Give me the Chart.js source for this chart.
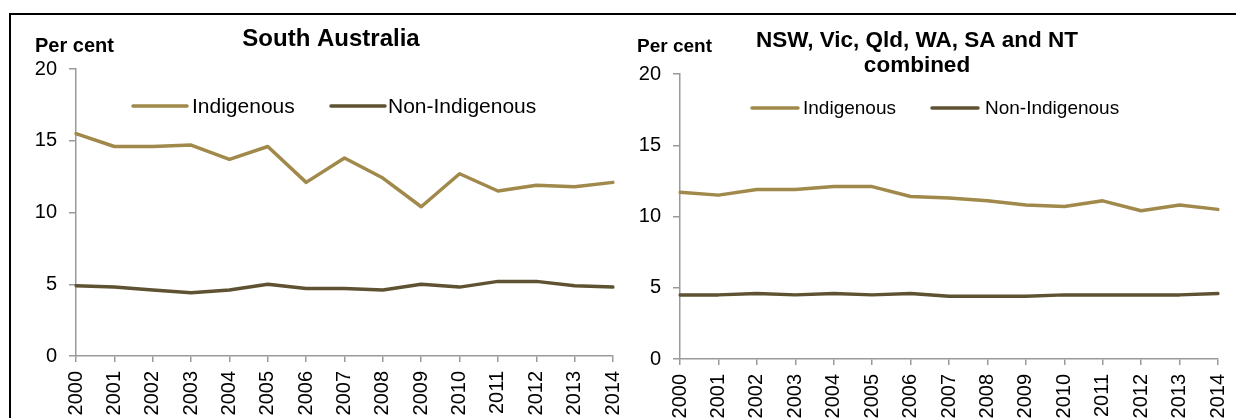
<!DOCTYPE html>
<html>
<head>
<meta charset="utf-8">
<script src="https://cdn.jsdelivr.net/npm/chart.js@4/dist/chart.umd.min.js"></script>
<style>
  html, body { margin: 0; padding: 0; background: #ffffff; }
  body { width: 1236px; height: 418px; position: relative; overflow: hidden; }
  #frame { position: absolute; left: 9px; top: 13px; width: 1300px; height: 500px; border: 2px solid #000; box-sizing: border-box; }
  .wrap { position: absolute; top: 0; height: 418px; }
  #w1 { left: 0; width: 630px; z-index: 2; }
  #w2 { left: 616px; width: 620px; z-index: 1; }
</style>
</head>
<body>
<div id="frame"></div>
<div class="wrap" id="w1"><canvas id="c1"></canvas></div>
<div class="wrap" id="w2"><canvas id="c2"></canvas></div>
<script>
const years = ['2000','2001','2002','2003','2004','2005','2006','2007','2008','2009','2010','2011','2012','2013','2014'];
const seriesNames = ['Indigenous', 'Non-Indigenous'];
const yTicks = [0, 5, 10, 15, 20];

const saIndigenous    = [15.5, 14.6, 14.6, 14.7, 13.7, 14.6, 12.1, 13.8, 12.4, 10.4, 12.7, 11.5, 11.9, 11.8, 12.1];
const saNonIndigenous = [4.9, 4.8, 4.6, 4.4, 4.6, 5.0, 4.7, 4.7, 4.6, 5.0, 4.8, 5.2, 5.2, 4.9, 4.8];

const allIndigenous    = [11.7, 11.5, 11.9, 11.9, 12.1, 12.1, 11.4, 11.3, 11.1, 10.8, 10.7, 11.1, 10.4, 10.8, 10.5];
const allNonIndigenous = [4.5, 4.5, 4.6, 4.5, 4.6, 4.5, 4.6, 4.4, 4.4, 4.4, 4.5, 4.5, 4.5, 4.5, 4.6];

const titleLeft = ['South Australia'];
const titleRight = ['NSW, Vic, Qld, WA, SA and NT', 'combined'];
const yUnit = 'Per cent';

const colIndig = '#A0894A';
const colNon = '#5E5232';
const axisGrey = '#9a9a9a';
const FONT = '"Liberation Sans", Arial, Helvetica, sans-serif';

Chart.defaults.font.family = FONT;
Chart.defaults.color = '#000';

const textPlugin = {
  id: 'textPlugin',
  afterDraw(chart, args, o) {
    const ctx = chart.ctx;
    ctx.save();
    ctx.fillStyle = '#000';
    ctx.textBaseline = 'alphabetic';
    ctx.font = 'bold ' + o.unitSize + 'px ' + FONT;
    ctx.textAlign = 'left';
    ctx.fillText(o.unit, o.unitX, o.unitY);
    ctx.font = 'bold ' + o.titleSize + 'px ' + FONT;
    ctx.textAlign = 'center';
    o.title.forEach((t, i) => ctx.fillText(t, o.titleX, o.titleY + i * o.titleLH));
    ctx.font = o.legSize + 'px ' + FONT;
    ctx.textAlign = 'left';
    ctx.textBaseline = 'middle';
    chart.data.datasets.forEach((ds, i) => {
      const lx = o.legLineX[i];
      ctx.strokeStyle = ds.borderColor;
      ctx.lineWidth = 3.5;
      ctx.lineCap = 'round';
      ctx.beginPath();
      ctx.moveTo(lx, o.legY);
      ctx.lineTo(lx + o.legLineLen, o.legY);
      ctx.stroke();
      ctx.fillStyle = '#000';
      ctx.fillText(ds.label, o.legTextX[i], o.legY + 1);
    });
    ctx.restore();
  }
};

function makeChart(id, indig, non, opts) {
  return new Chart(document.getElementById(id), {
    type: 'line',
    data: {
      labels: years,
      datasets: [
        { label: seriesNames[0], data: indig, borderColor: colIndig, backgroundColor: colIndig, borderWidth: 3.5, pointRadius: 0, tension: 0, borderCapStyle: 'round', borderJoinStyle: 'round' },
        { label: seriesNames[1], data: non, borderColor: colNon, backgroundColor: colNon, borderWidth: 3.5, pointRadius: 0, tension: 0, borderCapStyle: 'round', borderJoinStyle: 'round' }
      ]
    },
    options: {
      responsive: true,
      maintainAspectRatio: false,
      animation: false,
      layout: { padding: { left: 0, top: opts.top, right: opts.right, bottom: 0 } },
      plugins: {
        legend: { display: false },
        tooltip: { enabled: false },
        title: { display: false },
        textPlugin: opts.text
      },
      scales: {
        x: {
          type: 'category',
          offset: false,
          grid: { display: true, drawOnChartArea: false, offset: false, color: axisGrey, tickColor: axisGrey, tickLength: 6, lineWidth: 1.5 },
          border: { display: true, color: axisGrey, width: 1.5 },
          ticks: { autoSkip: false, minRotation: 90, maxRotation: 90, padding: 9, color: '#000', font: { size: 20 } },
          afterFit(scale) { scale.height = opts.xHeight; scale.paddingLeft = 0; scale.paddingRight = 0; }
        },
        y: {
          min: 0, max: 20,
          afterBuildTicks(scale) { scale.ticks = yTicks.map(v => ({ value: v })); },
          grid: { display: true, drawOnChartArea: false, color: axisGrey, tickColor: axisGrey, tickLength: 7, lineWidth: 1.5 },
          border: { display: true, color: axisGrey, width: 1.5 },
          ticks: { padding: 12, color: '#000', font: { size: 20 } },
          afterFit(scale) { scale.width = opts.yWidth; scale.paddingTop = 0; scale.paddingBottom = 0; }
        }
      }
    },
    plugins: [textPlugin]
  });
}

makeChart('c1', saIndigenous, saNonIndigenous, {
  top: 69, right: 17, yWidth: 76, xHeight: 62,
  text: {
    unit: yUnit, unitSize: 20, unitX: 35, unitY: 52,
    title: titleLeft, titleSize: 24, titleX: 331, titleY: 46, titleLH: 25,
    legSize: 21, legY: 106, legLineLen: 54, legLineX: [133, 331], legTextX: [192, 388]
  }
});

makeChart('c2', allIndigenous, allNonIndigenous, {
  top: 74, right: 18, yWidth: 64, xHeight: 59,
  text: {
    unit: yUnit, unitSize: 19, unitX: 21, unitY: 52,
    title: titleRight, titleSize: 22.5, titleX: 301, titleY: 47, titleLH: 25,
    legSize: 19, legY: 108, legLineLen: 46, legLineX: [136, 316], legTextX: [187, 369]
  }
});
</script>
</body>
</html>
